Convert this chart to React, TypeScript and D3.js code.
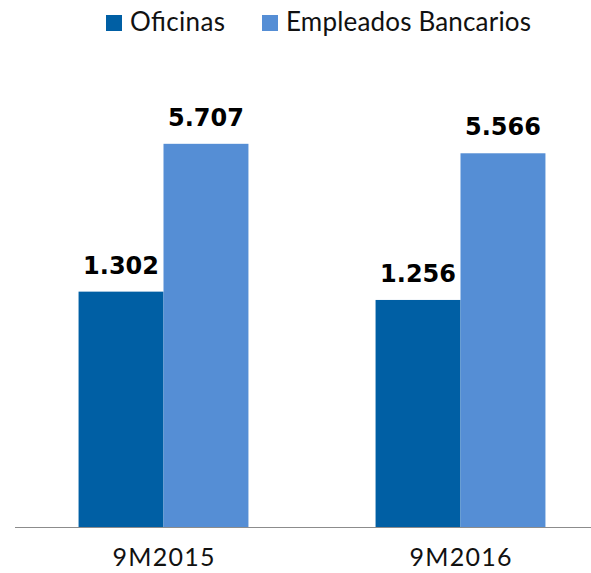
import React from 'react';
import * as d3 from 'd3';

// periods and the two series (two separate value axes, as in the source)
const periods = ['9M2015', '9M2016'];
const seriesNames = ['Oficinas', 'Empleados Bancarios'];
const oficinas = [1302, 1256];
const empleados = [5707, 5566];
const valueLabels = [
  ['1.302', '5.707'],
  ['1.256', '5.566'],
];

const colors = ['#005fa4', '#558ed5'];

export default function App() {
  const width = 591;
  const height = 573;
  const baseline = 527;
  const plotTop = 57;

  const x0 = d3
    .scaleBand()
    .domain(periods)
    .range([15, 609])
    .paddingInner(0.428)
    .paddingOuter(0.214);
  const x1 = d3
    .scaleBand()
    .domain(seriesNames)
    .range([0, x0.bandwidth()]);

  const yOfi = d3.scaleLinear().domain([0, 2600]).range([baseline, plotTop]);
  const yEmp = d3.scaleLinear().domain([0, 7000]).range([baseline, plotTop]);

  const bars = periods.flatMap((p, i) => [
    { p, s: seriesNames[0], v: oficinas[i], y: yOfi, label: valueLabels[i][0], c: colors[0] },
    { p, s: seriesNames[1], v: empleados[i], y: yEmp, label: valueLabels[i][1], c: colors[1] },
  ]);

  // legend entries
  const legend = [
    { name: seriesNames[0], x: 106, w: 95, c: colors[0] },
    { name: seriesNames[1], x: 262, w: 245, c: colors[1] },
  ];

  return (
    <svg
      width={width}
      height={height}
      style={{ position: 'absolute', left: 0, top: 0, background: '#fff' }}
    >
      {legend.map((d) => (
        <g key={d.name}>
          <rect x={d.x} y={15} width={16} height={16} fill={d.c} />
          <text
            x={d.x + 24}
            y={31}
            fontFamily="Lato, sans-serif"
            fontSize={26}
            textLength={d.w}
            lengthAdjust="spacing"
            fill="#111"
          >
            {d.name}
          </text>
        </g>
      ))}

      {bars.map((d) => {
        const bx = x0(d.p)! + x1(d.s)!;
        const top = d.y(d.v);
        return (
          <g key={d.p + d.s}>
            <rect x={bx} y={top} width={x1.bandwidth()} height={baseline - top} fill={d.c} />
            <text
              x={bx + x1.bandwidth() / 2}
              y={top - 18}
              textAnchor="middle"
              fontFamily="DejaVu Sans, sans-serif"
              fontWeight="bold"
              fontSize={24}
              fill="#000"
            >
              {d.label}
            </text>
          </g>
        );
      })}

      <line x1={15} x2={width} y1={baseline + 0.5} y2={baseline + 0.5} stroke="#8c8c8c" strokeWidth={1} />

      {periods.map((p) => (
        <text
          key={p}
          x={x0(p)! + x0.bandwidth() / 2}
          y={566}
          textAnchor="middle"
          fontFamily="Lato, sans-serif"
          fontSize={25}
          textLength={102}
          lengthAdjust="spacing"
          fill="#111"
        >
          {p}
        </text>
      ))}
    </svg>
  );
}
